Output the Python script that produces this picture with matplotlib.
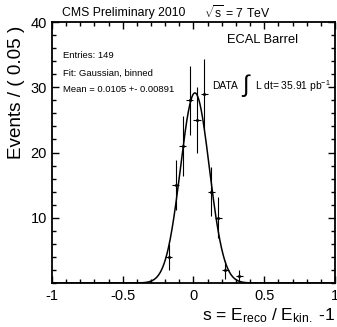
import matplotlib
matplotlib.use('Agg')
import matplotlib.pyplot as plt
import numpy as np

plt.rcParams['font.family'] = ['Liberation Sans', 'DejaVu Sans']
plt.rcParams['mathtext.fontset'] = 'custom'
plt.rcParams['mathtext.rm'] = 'Liberation Sans'
plt.rcParams['mathtext.it'] = 'Liberation Sans'
plt.rcParams['mathtext.default'] = 'regular'

# binned data (bin width 0.05)
bin_centers = [-0.175, -0.125, -0.075, -0.025, 0.025, 0.075, 0.125, 0.175, 0.225, 0.325]
counts = [4, 15, 21, 28, 25, 29, 14, 10, 2, 1]
bin_width = 0.05

# gaussian fit
fit_mean = 0.0105
fit_sigma = 0.102
n_entries = sum(counts)

x = np.array(bin_centers)
y = np.array(counts, dtype=float)
yerr = np.sqrt(y)

fig = plt.figure(figsize=(3.37, 3.27), dpi=100)
ax = fig.add_axes([0.154, 0.1346, 0.840, 0.798])

ax.errorbar(x, y, xerr=bin_width / 2, yerr=yerr, fmt='o', color='black',
            markersize=1.2, elinewidth=0.8, capsize=0)

xs = np.linspace(-1, 1, 800)
amp = n_entries * bin_width / (fit_sigma * np.sqrt(2 * np.pi))
ax.plot(xs, amp * np.exp(-0.5 * ((xs - fit_mean) / fit_sigma) ** 2),
        color='black', lw=1.1)

ax.set_xlim(-1, 1)
ax.set_ylim(0, 40)
ax.set_xticks([-1, -0.5, 0, 0.5, 1])
ax.set_xticklabels(['-1', '-0.5', '0', '0.5', '1'])
ax.set_xticks(np.arange(-1, 1.01, 0.1), minor=True)
ax.set_yticks([10, 20, 30, 40])
ax.set_yticks(np.arange(0, 40.1, 2), minor=True)
ax.tick_params(which='both', direction='in', top=True, right=True, labelsize=10.5, width=1)
ax.tick_params(which='major', length=5)
ax.tick_params(which='minor', length=3)
ax.tick_params(axis='x', pad=4)
for s in ax.spines.values():
    s.set_linewidth(1.3)

ax.set_ylabel('Events / ( 0.05 )', fontsize=13.6, labelpad=4, y=0.985, ha='right')
ax.set_xlabel('s = E$_{reco}$ / E$_{kin.}$ -1', loc='right', fontsize=12.5, labelpad=3)

fig.text(62 / 337, 1 - 13 / 327, 'CMS Preliminary 2010', fontsize=8.8, va='center')
fig.text(204 / 337, 1 - 13 / 327, r'$\sqrt{s}$ = 7 TeV', fontsize=8.8, va='center')
fig.text(227 / 337, 1 - 40 / 327, 'ECAL Barrel', fontsize=9.3, va='center')
fig.text(63 / 337, 1 - 56 / 327, 'Entries: %d' % n_entries, fontsize=6.8, va='center')
fig.text(63 / 337, 1 - 73 / 327, 'Fit: Gaussian, binned', fontsize=6.8, va='center')
fig.text(63 / 337, 1 - 89 / 327, 'Mean = 0.0105 +- 0.00891', fontsize=6.8, va='center')
fig.text(212 / 337, 1 - 86 / 327, 'DATA', fontsize=7.4, va='center')
fig.text(242 / 337, 1 - 86 / 327, '\u222b', fontsize=17, va='center')
fig.text(255 / 337, 1 - 86 / 327, 'L dt= 35.91 pb$^{-1}$', fontsize=7.4, va='center')

plt.savefig('out.png', dpi=100)
